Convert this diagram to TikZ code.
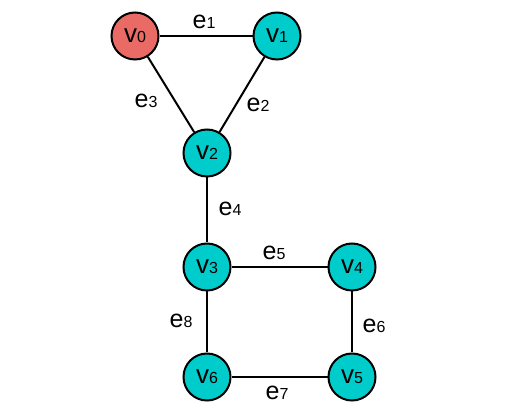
\documentclass[tikz,border=0pt]{standalone}
\usepackage{fontspec}
\setmainfont{Liberation Sans}
\definecolor{vred}{HTML}{EA6B66}
\definecolor{vcyan}{HTML}{00CCCC}
\newcommand{\vlab}[1]{{\fontsize{26}{26}\selectfont v}{\fontsize{16}{16}\selectfont #1}}
\newcommand{\elab}[1]{{\fontsize{25}{25}\selectfont e}{\fontsize{16}{16}\selectfont #1}}
\begin{document}
\begin{tikzpicture}[x=1pt,y=-1pt,
  vert/.style={circle,draw=black,line width=2pt,fill=vcyan,minimum size=47pt,inner sep=0pt},
  edgeline/.style={line width=2pt,draw=black},
  elabel/.style={inner sep=0pt}]
\useasboundingbox (0,0) rectangle (507,411);
\node[vert,fill=vred] (v0) at (135,36) {\vlab{0}};
\node[vert] (v1) at (277,36) {\vlab{1}};
\node[vert] (v2) at (207,153) {\vlab{2}};
\node[vert] (v3) at (207,267) {\vlab{3}};
\node[vert] (v4) at (352,267) {\vlab{4}};
\node[vert] (v5) at (352,377) {\vlab{5}};
\node[vert] (v6) at (207,377) {\vlab{6}};
\draw[edgeline] (v0) -- (v1);
\draw[edgeline] (v1) -- (v2);
\draw[edgeline] (v0) -- (v2);
\draw[edgeline] (v2) -- (v3);
\draw[edgeline] (v3) -- (v4);
\draw[edgeline] (v4) -- (v5);
\draw[edgeline] (v5) -- (v6);
\draw[edgeline] (v6) -- (v3);
\node[elabel] (e1) at (204,22) {\elab{1}};
\node[elabel] (e2) at (258,105) {\elab{2}};
\node[elabel] (e3) at (146,101) {\elab{3}};
\node[elabel] (e4) at (230,209) {\elab{4}};
\node[elabel] (e5) at (274,253) {\elab{5}};
\node[elabel] (e6) at (374,326) {\elab{6}};
\node[elabel] (e7) at (277,393) {\elab{7}};
\node[elabel] (e8) at (181,321) {\elab{8}};
\end{tikzpicture}
\end{document}
